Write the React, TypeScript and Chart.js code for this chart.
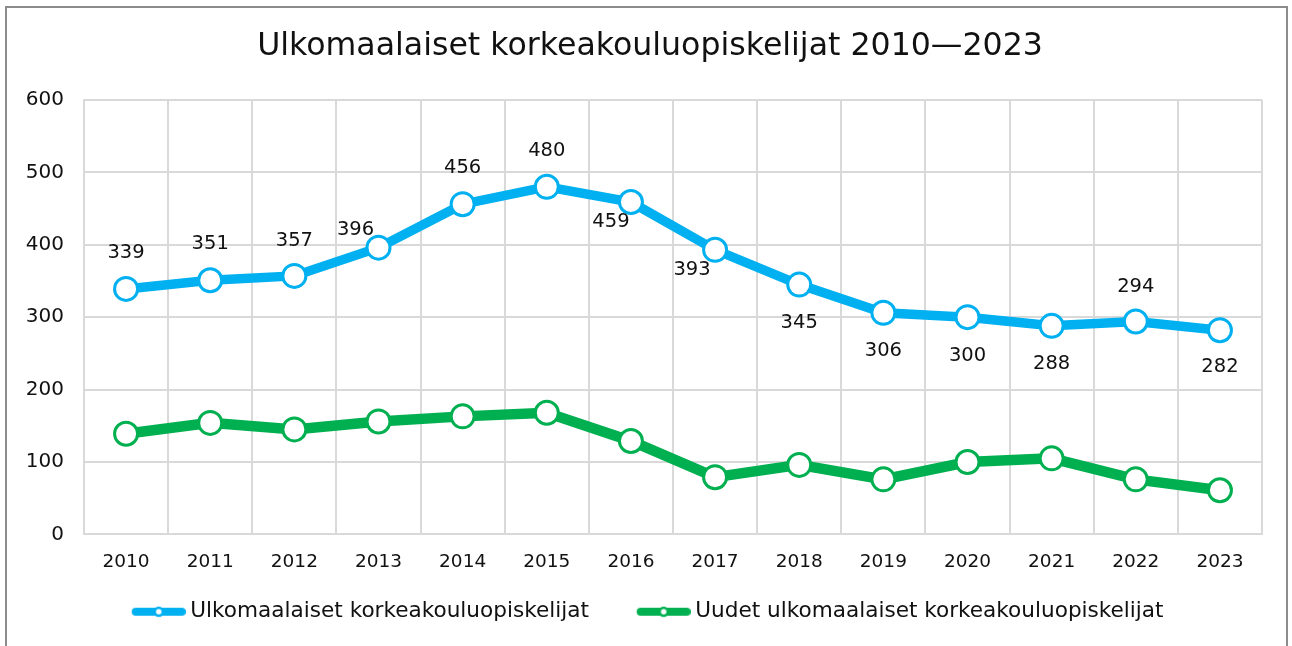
import React, { useEffect, useRef } from 'react';
import { Chart, registerables } from 'chart.js';

Chart.register(...registerables);

// ---- Data ----
const years = ['2010', '2011', '2012', '2013', '2014', '2015', '2016', '2017', '2018', '2019', '2020', '2021', '2022', '2023'];
const totalStudents = [339, 351, 357, 396, 456, 480, 459, 393, 345, 306, 300, 288, 294, 282];
const newStudents = [139, 154, 145, 156, 163, 168, 129, 79, 96, 76, 100, 105, 76, 61];
const seriesNames = ['Ulkomaalaiset korkeakouluopiskelijat', 'Uudet ulkomaalaiset korkeakouluopiskelijat'];
const chartTitle = 'Ulkomaalaiset korkeakouluopiskelijat 2010—2023';
const yMin = 0;
const yMax = 600;
const yStep = 100;

// ---- Styles ----
const FONT = '"DejaVu Sans", sans-serif';
const TEXT = '#111111';
const BLUE = '#00B0F0';
const GREEN = '#00B050';
const GRID = '#d9d9d9';
// label offset (dx, dy) from each point of the first series, in px
const labelOffsets: [number, number][] = [
  [0, -36], [0, -36], [0, -35], [-23, -18], [0, -36], [0, -36], [-20, 20],
  [-23, 20], [0, 38], [0, 38], [0, 39], [0, 38], [0, -35], [0, 37],
];

function makeLegendMarker(color: string): HTMLCanvasElement {
  const c = document.createElement('canvas');
  c.width = 90;
  c.height = 20;
  const g = c.getContext('2d')!;
  g.strokeStyle = color;
  g.lineWidth = 8;
  g.lineCap = 'round';
  g.beginPath();
  g.moveTo(40, 10);
  g.lineTo(86, 10);
  g.stroke();
  g.beginPath();
  g.arc(63, 10, 4, 0, Math.PI * 2);
  g.fillStyle = '#ffffff';
  g.fill();
  g.lineWidth = 2.5;
  g.stroke();
  return c;
}

const pointLabelPlugin = {
  id: 'pointLabels',
  afterDatasetsDraw(chart: any) {
    const ctx = chart.ctx;
    const meta = chart.getDatasetMeta(0);
    ctx.save();
    ctx.font = `19.5px ${FONT}`;
    ctx.fillStyle = TEXT;
    ctx.textAlign = 'center';
    ctx.textBaseline = 'middle';
    meta.data.forEach((pt: any, i: number) => {
      const [dx, dy] = labelOffsets[i] || [0, -36];
      ctx.fillText(String(totalStudents[i]), pt.x + dx, pt.y + dy);
    });
    ctx.restore();
  },
};

export default function App() {
  const canvasRef = useRef<HTMLCanvasElement | null>(null);

  useEffect(() => {
    if (!canvasRef.current) return;
    const markers = [makeLegendMarker(BLUE), makeLegendMarker(GREEN)];
    const chart = new Chart(canvasRef.current, {
      type: 'line',
      data: {
        labels: years,
        datasets: [
          {
            label: seriesNames[0],
            data: totalStudents,
            borderColor: BLUE,
            backgroundColor: BLUE,
            borderWidth: 9.5,
            pointRadius: 11.5,
            pointBorderWidth: 3,
            pointBackgroundColor: '#ffffff',
            pointBorderColor: BLUE,
            tension: 0,
            yAxisID: 'y',
          },
          {
            label: seriesNames[1],
            data: newStudents,
            borderColor: GREEN,
            backgroundColor: GREEN,
            borderWidth: 10.5,
            pointRadius: 11.5,
            pointBorderWidth: 3,
            pointBackgroundColor: '#ffffff',
            pointBorderColor: GREEN,
            tension: 0,
            yAxisID: 'y',
          },
        ],
      },
      options: {
        responsive: false,
        animation: false,
        clip: false as any,
        layout: { padding: { left: 8, right: 0, top: 0, bottom: 13.5 } },
        plugins: {
          title: {
            display: true,
            text: chartTitle,
            color: TEXT,
            font: { family: FONT, size: 31.6, weight: 'normal' as any },
            padding: { top: 28, bottom: 34 },
          },
          legend: {
            position: 'bottom',
            align: 'start',
            fullSize: false,
            labels: {
              usePointStyle: true,
              pointStyleWidth: 77.5,
              padding: 18,
              color: TEXT,
              font: { family: FONT, size: 21.6 },
              generateLabels: (c: any) =>
                Chart.defaults.plugins.legend.labels.generateLabels(c).map((l: any, i: number) => ({
                  ...l,
                  pointStyle: markers[i],
                })),
            },
          },
          tooltip: { enabled: false },
        },
        scales: {
          x: {
            offset: true,
            grid: { offset: true, color: GRID, lineWidth: 2, drawTicks: false },
            border: { color: GRID, width: 2 },
            ticks: { color: TEXT, font: { family: FONT, size: 18.5 }, padding: 17 },
            afterFit: (s: any) => {
              s.height = 48.5;
            },
          },
          y: {
            min: yMin,
            max: yMax,
            grid: { color: GRID, lineWidth: 2, drawTicks: false },
            border: { color: GRID, width: 2 },
            ticks: { stepSize: yStep, color: TEXT, font: { family: FONT, size: 20 }, padding: 20 },
            afterFit: (s: any) => {
              s.width = 76;
            },
          },
          yRight: {
            position: 'right',
            display: true,
            grid: { display: false, drawTicks: false },
            border: { display: false },
            ticks: { display: false },
            afterFit: (s: any) => {
              s.width = 30;
            },
          },
        },
      },
      plugins: [pointLabelPlugin],
    });
    return () => chart.destroy();
  }, []);

  return (
    <div style={{ position: 'absolute', left: 0, top: 0, width: 1292, height: 646, overflow: 'hidden', background: '#ffffff' }}>
      <canvas ref={canvasRef} width={1292} height={646} style={{ display: 'block' }} />
      <div
        style={{
          position: 'absolute',
          left: 5,
          top: 6,
          width: 1283,
          height: 700,
          border: '2px solid #8c8c8c',
          boxSizing: 'border-box',
          pointerEvents: 'none',
        }}
      />
    </div>
  );
}
